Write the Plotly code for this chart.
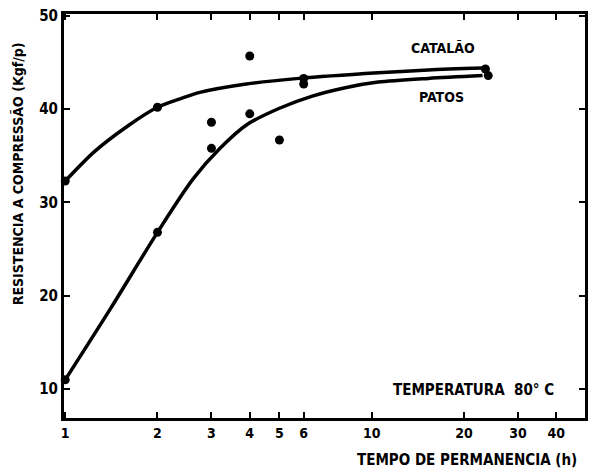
import plotly.graph_objects as go

# Observed points (time in h, strength)
pts_x = [1, 1, 2, 2, 3, 3, 4, 4, 5, 6, 6, 23.5, 24]
pts_y = [32.3, 11.0, 40.2, 26.8, 38.6, 35.8, 45.7, 39.5, 36.7, 43.3, 42.7, 44.3, 43.6]

# Fitted curves (hand-read)
cat_x = [1, 1.24, 1.6, 2, 2.37, 2.75, 3.9, 5.8, 10.5, 15.3, 23]
cat_y = [32.3, 35.4, 38.2, 40.2, 41.1, 41.8, 42.7, 43.3, 43.9, 44.2, 44.4]
pat_x = [1, 1.41, 2, 2.61, 3.2, 3.9, 5.0, 6.4, 8.2, 10.5, 15.3, 23]
pat_y = [11.0, 18.7, 26.8, 32.5, 35.8, 38.3, 40.1, 41.4, 42.3, 42.9, 43.3, 43.6]

xticks = [1, 2, 3, 4, 5, 6, 10, 20, 30, 40]
yticks = [10, 20, 30, 40, 50]

FONT = "DejaVu Sans Condensed, DejaVu Sans, sans-serif"

L, R, T, B = 64, 588, 14, 418


def px(xp):
    return (xp - L) / (R - L)


def py(yp):
    return 1 - (yp - T) / (B - T)


fig = go.Figure()
for cx, cy in [(cat_x, cat_y), (pat_x, pat_y)]:
    fig.add_trace(go.Scatter(x=cx, y=cy, mode="lines",
                             line=dict(color="black", width=3.5, shape="spline", smoothing=0.8),
                             showlegend=False))
fig.add_trace(go.Scatter(x=pts_x, y=pts_y, mode="markers",
                         marker=dict(color="black", size=9),
                         showlegend=False, cliponaxis=False))

annots = [
    ("CATALÃO", 445, 48, 14),
    ("PATOS", 444, 97, 14),
    ("TEMPERATURA  80° C", 476, 390, 15),
]
for txt, xx, yy, sz in annots:
    fig.add_annotation(x=px(xx), y=py(yy), xref="paper", yref="paper", text=txt,
                       showarrow=False, xanchor="center", yanchor="middle",
                       font=dict(family=FONT, size=sz, color="black", weight="bold"))

# axis titles placed as in the reference
fig.add_annotation(x=px(469), y=py(460), xref="paper", yref="paper",
                   text="TEMPO DE PERMANENCIA (h)", showarrow=False,
                   xanchor="center", yanchor="middle",
                   font=dict(family=FONT, size=15, color="black", weight="bold"))
fig.add_annotation(x=px(18), y=py(174), xref="paper", yref="paper",
                   text="RESISTENCIA A COMPRESSÃO (Kgf/p)", showarrow=False,
                   textangle=-90, xanchor="center", yanchor="middle",
                   font=dict(family=FONT, size=14, color="black", weight="bold"))

fig.update_layout(
    width=595, height=475,
    margin=dict(l=L, r=595 - R, t=T, b=475 - B),
    paper_bgcolor="white", plot_bgcolor="white",
    font=dict(family=FONT, color="black", weight="bold"),
)
fig.update_xaxes(
    type="log", range=[-0.004, 1.696],
    tickvals=xticks, ticktext=[str(v) for v in xticks],
    ticks="inside", ticklen=6, tickwidth=2, tickcolor="black",
    showline=True, linecolor="black", linewidth=3, mirror="ticks",
    showgrid=False, zeroline=False,
    tickfont=dict(family=FONT, size=14, color="black", weight="bold"),
)
fig.update_yaxes(
    range=[6.9, 50.2],
    tickvals=yticks,
    ticks="inside", ticklen=6, tickwidth=2, tickcolor="black",
    showline=True, linecolor="black", linewidth=3, mirror="ticks",
    showgrid=False, zeroline=False,
    tickfont=dict(family=FONT, size=15, color="black", weight="bold"),
)

fig.write_html("out.html")
